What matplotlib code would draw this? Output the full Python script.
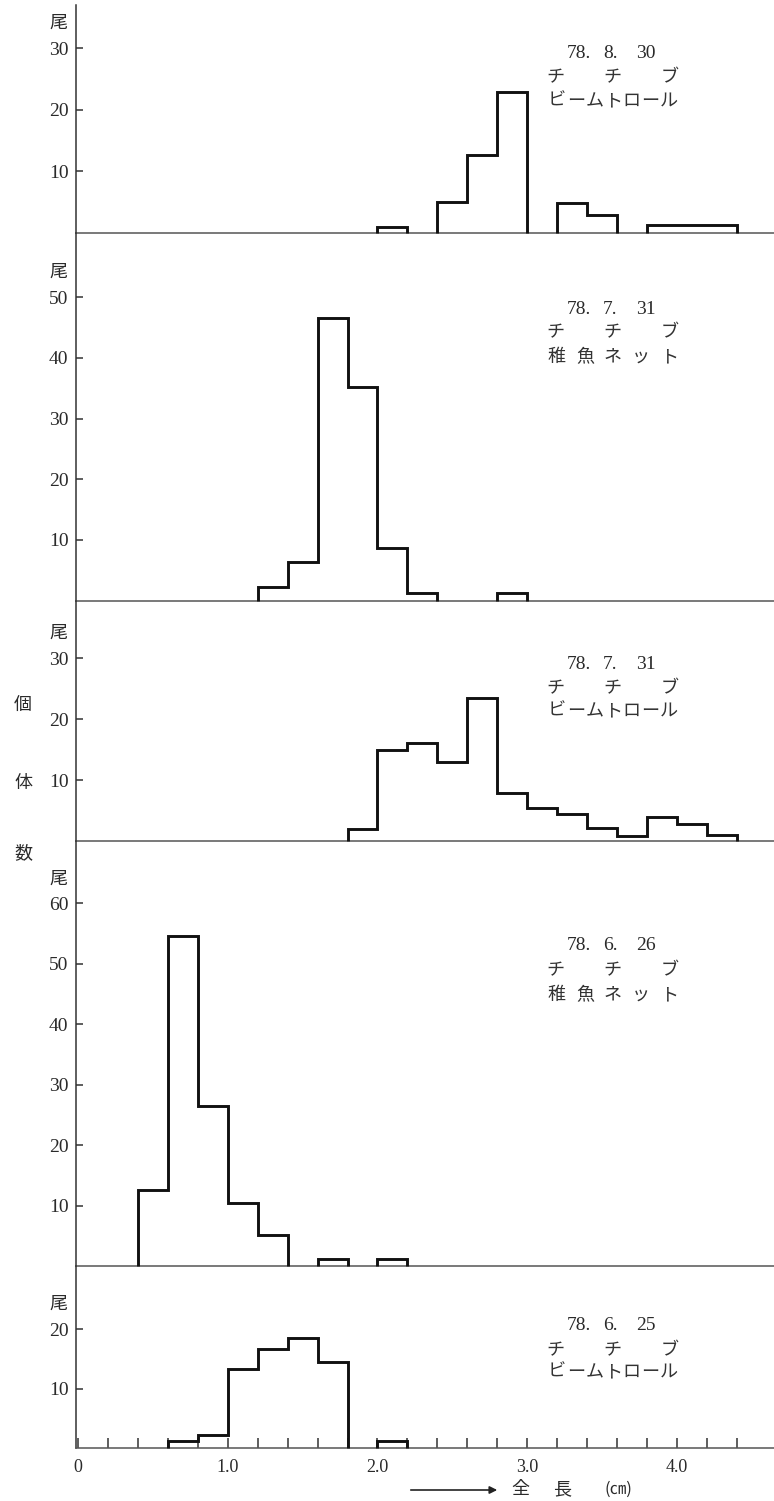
import matplotlib
matplotlib.use("Agg")
import matplotlib.pyplot as plt

# ---------------- data ----------------
# length classes (total length, cm), 0.2 cm bins
bin_edges = [0.0, 0.2, 0.4, 0.6, 0.8, 1.0, 1.2, 1.4, 1.6, 1.8, 2.0, 2.2,
             2.4, 2.6, 2.8, 3.0, 3.2, 3.4, 3.6, 3.8, 4.0, 4.2, 4.4, 4.6]

# counts (尾) per bin, one list per sample
counts_780830_beam = [0, 0, 0, 0, 0, 0, 0, 0, 0, 0, 1.0, 0,
                      5.0, 12.7, 22.8, 0, 4.8, 2.8, 0, 1.2, 1.2, 1.2, 0]
counts_780731_net = [0, 0, 0, 0, 0, 0, 2.2, 6.3, 46.5, 35.2, 8.6, 1.2,
                     0, 0, 1.2, 0, 0, 0, 0, 0, 0, 0, 0]
counts_780731_beam = [0, 0, 0, 0, 0, 0, 0, 0, 0, 1.9, 15.0, 16.0,
                      13.0, 23.5, 7.9, 5.4, 4.4, 2.1, 0.9, 4.0, 2.8, 1.0, 0]
counts_780626_net = [0, 0, 12.6, 54.6, 26.5, 10.4, 5.1, 0, 1.1, 0, 1.1, 0,
                     0, 0, 0, 0, 0, 0, 0, 0, 0, 0, 0]
counts_780625_beam = [0, 0, 0, 1.3, 2.2, 13.3, 16.7, 18.5, 14.5, 0, 1.2, 0,
                      0, 0, 0, 0, 0, 0, 0, 0, 0, 0, 0]

dates = [["78.", "8.", "30"], ["78.", "7.", "31"], ["78.", "7.", "31"],
         ["78.", "6.", "26"], ["78.", "6.", "25"]]
species = "チチブ"
gears = ["ビームトロール", "稚魚ネット", "ビームトロール", "稚魚ネット", "ビームトロール"]
yticks_list = [[10, 20, 30], [10, 20, 30, 40, 50], [10, 20, 30],
               [10, 20, 30, 40, 50, 60], [10, 20]]
all_counts = [counts_780830_beam, counts_780731_net, counts_780731_beam,
              counts_780626_net, counts_780625_beam]
xtick_vals = [0, 1, 2, 3, 4]
xtick_labels = ["0", "1.0", "2.0", "3.0", "4.0"]
unit_label = "尾"
side_label = ["個", "体", "数"]
xlabel_parts = ["全", "長", "(㎝)"]

# ---------------- layout (pixels) ----------------
W, H = 774, 1501
AX_LEFT = 75.5
X_MIN, X_MAX = -0.017, 4.649
# (top_px, baseline_px, px per unit, text line y's)
layout = [
    (5.0, 232.7, 6.15, [53, 77, 101]),
    (232.7, 600.7, 6.07, [309, 332, 357]),
    (600.7, 841.0, 6.10, [665, 688, 711]),
    (841.0, 1266.0, 6.045, [946, 970, 995]),
    (1266.0, 1448.3, 5.96, [1325, 1350, 1372]),
]
date_x = [579, 610, 646]
CJK = ["Noto Sans CJK JP", "DejaVu Sans"]
SERIF = ["Liberation Serif", "DejaVu Serif"]
TXT = "#2a2a2a"

fig = plt.figure(figsize=(W / 100, H / 100), dpi=100)


def fx(px):
    return px / W


def fy(py):
    return 1 - py / H


def draw_outline(ax, edges, counts):
    runs, cur = [], []
    for i, c in enumerate(counts):
        if c > 0:
            cur.append(i)
        elif cur:
            runs.append(cur)
            cur = []
    if cur:
        runs.append(cur)
    for idx in runs:
        xs = [edges[idx[0]]]
        ys = [0]
        for i in idx:
            xs += [edges[i], edges[i + 1]]
            ys += [counts[i], counts[i]]
        xs.append(edges[idx[-1] + 1])
        ys.append(0)
        ax.plot(xs, ys, color="#111111", lw=2.1, solid_joinstyle="miter",
                solid_capstyle="butt", clip_on=False, zorder=3)


def spread_text(chars, y, x0, x1, size):
    n = len(chars)
    for k, ch in enumerate(chars):
        x = x0 + (x1 - x0) * k / (n - 1)
        fig.text(fx(x), fy(y), ch, ha="center", va="center",
                 family=CJK, fontsize=size, color="#333333")


axes = []
for p, (top, base, ppu, ty) in enumerate(layout):
    ax = fig.add_axes([fx(AX_LEFT), fy(base), 1 - fx(AX_LEFT), (base - top) / H])
    ax.set_xlim(X_MIN, X_MAX)
    ax.set_ylim(0, (base - top) / ppu)
    ax.patch.set_alpha(0)
    for s in ["top", "right"]:
        ax.spines[s].set_visible(False)
    ax.spines["left"].set_color("#333333")
    ax.spines["left"].set_linewidth(1.1)
    ax.spines["bottom"].set_color("#555555")
    ax.spines["bottom"].set_linewidth(1.1)

    draw_outline(ax, bin_edges, all_counts[p])

    yt = yticks_list[p]
    ax.set_yticks(yt)
    ax.set_yticklabels([str(v) for v in yt], family=SERIF, fontsize=14, color=TXT)
    ax.tick_params(axis="y", direction="in", length=5, width=1.1, pad=5, colors="#333333")
    ax.tick_params(axis="y", labelcolor=TXT)

    ax.annotate(unit_label, xy=(0, yt[-1]), xycoords=("axes fraction", "data"),
                xytext=(-17.5, 25), textcoords="offset pixels", ha="center",
                va="center", family=CJK, fontsize=13, color=TXT)

    # sample annotation
    for k, tok in enumerate(dates[p]):
        fig.text(fx(date_x[k]), fy(ty[0]), tok, ha="center", va="center",
                 family=SERIF, fontsize=14, color=TXT)
    spread_text(list(species), ty[1], 555, 670, 13)
    spread_text(list(gears[p]), ty[2], 557, 669, 13)

    if p < len(layout) - 1:
        ax.set_xticks([])
    else:
        ax.set_xticks(xtick_vals)
        ax.set_xticks([v / 10 for v in range(2, 46, 2)], minor=True)
        ax.set_xticklabels(xtick_labels, family=SERIF, fontsize=13, color=TXT)
        ax.tick_params(axis="x", which="both", direction="in", length=7,
                       width=1.1, pad=8, colors="#333333")
        ax.tick_params(axis="x", labelcolor=TXT)
    axes.append(ax)

# side label 個 体 数
for ch, y in zip(side_label, [706, 783, 853]):
    fig.text(fx(23), fy(y), ch, ha="center", va="center", family=CJK,
             fontsize=13, color=TXT)

# x-axis label with arrow
fig.add_artist(matplotlib.patches.FancyArrowPatch(
    (fx(408), fy(1490)), (fx(500), fy(1490)), transform=fig.transFigure,
    arrowstyle="-|>", mutation_scale=11, lw=1.2, color="#222222"))
for t, x in zip(xlabel_parts, [520, 562, 618]):
    fig.text(fx(x), fy(1489), t, ha="center", va="center", family=CJK,
             fontsize=13 if t != "(㎝)" else 12, color=TXT)

fig.savefig("out.png", dpi=100)
